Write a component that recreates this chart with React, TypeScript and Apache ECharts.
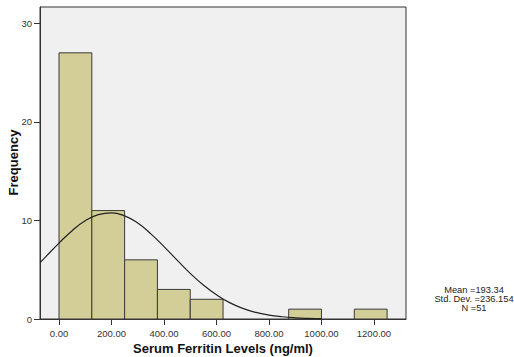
import React, { useEffect, useRef } from "react";
import * as echarts from "echarts";

const binStarts = [0, 125, 250, 375, 500, 625, 750, 875, 1000, 1125];
const binWidth = 125;
const counts = [27, 11, 6, 3, 2, 0, 0, 1, 0, 1];
const curveX = [-72, -50, 0, 50, 100, 150, 200, 250, 300, 350, 400, 450, 500, 550, 600, 650, 700, 750, 800, 850, 900, 950, 1000];
const curveY = [5.72, 6.33, 7.7, 8.96, 9.96, 10.59, 10.77, 10.46, 9.73, 8.64, 7.34, 5.97, 4.63, 3.44, 2.45, 1.66, 1.08, 0.67, 0.4, 0.23, 0.12, 0.06, 0.03];
const xTicks = [0, 200, 400, 600, 800, 1000, 1200];
const yTicks = [0, 10, 20, 30];
const xTitle = "Serum Ferritin Levels (ng/ml)";
const yTitle = "Frequency";
const statsLines = ["Mean =193.34", "Std. Dev. =236.154", "N =51"];

export default function App() {
  const ref = useRef<HTMLDivElement>(null);
  useEffect(() => {
    document.body.style.margin = "0";
    const chart = echarts.init(ref.current!, null, { renderer: "svg" });
    const font = "Arial, 'Liberation Sans', sans-serif";
    chart.setOption({
      animation: false,
      grid: {
        left: 40,
        top: 7,
        right: 108,
        bottom: 38,
        containLabel: false,
        outerBoundsMode: "none",
        show: true,
        backgroundColor: "#f0f0f0",
        borderColor: "#333",
        borderWidth: 1,
      },
      xAxis: {
        type: "value",
        min: -72.4,
        max: 1322,
        axisLine: { show: true, onZero: false, lineStyle: { color: "#333" } },
        axisTick: { show: true, length: 6, customValues: xTicks, lineStyle: { color: "#333" } },
        axisLabel: {
          customValues: xTicks,
          fontFamily: font,
          fontSize: 9.5,
          color: "#333",
          margin: 9,
          formatter: (v: number) => v.toFixed(2),
        },
        splitLine: { show: false },
      },
      yAxis: {
        type: "value",
        min: 0,
        max: 31.65,
        axisLine: { show: true, onZero: false, lineStyle: { color: "#333" } },
        axisTick: { show: true, length: 6, customValues: yTicks, lineStyle: { color: "#333" } },
        axisLabel: {
          customValues: yTicks,
          fontFamily: font,
          fontSize: 9.5,
          color: "#333",
          margin: 8,
        },
        splitLine: { show: false },
      },
      series: [
        {
          type: "custom",
          data: binStarts.map((s, i) => [s, s + binWidth, counts[i]]),
          renderItem: (params: any, api: any) => {
            const c = api.value(2);
            if (!c) return null;
            const p0 = api.coord([api.value(0), c]);
            const p1 = api.coord([api.value(1), 0]);
            return {
              type: "rect",
              shape: { x: p0[0], y: p0[1], width: p1[0] - p0[0], height: p1[1] - p0[1] },
              style: { fill: "#d3ce97", stroke: "#3a3a3a", lineWidth: 1 },
            };
          },
          z: 2,
        },
        {
          type: "line",
          data: curveX.map((x, i) => [x, curveY[i]]),
          smooth: true,
          showSymbol: false,
          lineStyle: { color: "#222", width: 1.2 },
          z: 3,
        },
      ],
      graphic: [
        {
          type: "text",
          x: 223,
          y: 348,
          style: {
            text: xTitle,
            fontFamily: font,
            fontWeight: "bold",
            fontSize: 13,
            fill: "#111",
            align: "center",
            verticalAlign: "middle",
          },
        },
        {
          type: "text",
          x: 13,
          y: 162.5,
          rotation: Math.PI / 2,
          style: {
            text: yTitle,
            fontFamily: font,
            fontWeight: "bold",
            fontSize: 13,
            fill: "#111",
            align: "center",
            verticalAlign: "middle",
          },
        },
        ...statsLines.map((t, i) => ({
          type: "text",
          x: 474,
          y: 290 + i * 9,
          style: {
            text: t,
            fontFamily: font,
            fontSize: 9.3,
            fill: "#222",
            align: "center",
            verticalAlign: "middle",
          },
        })),
      ],
    });
    return () => chart.dispose();
  }, []);
  return <div ref={ref} style={{ width: 514, height: 357 }} />;
}
